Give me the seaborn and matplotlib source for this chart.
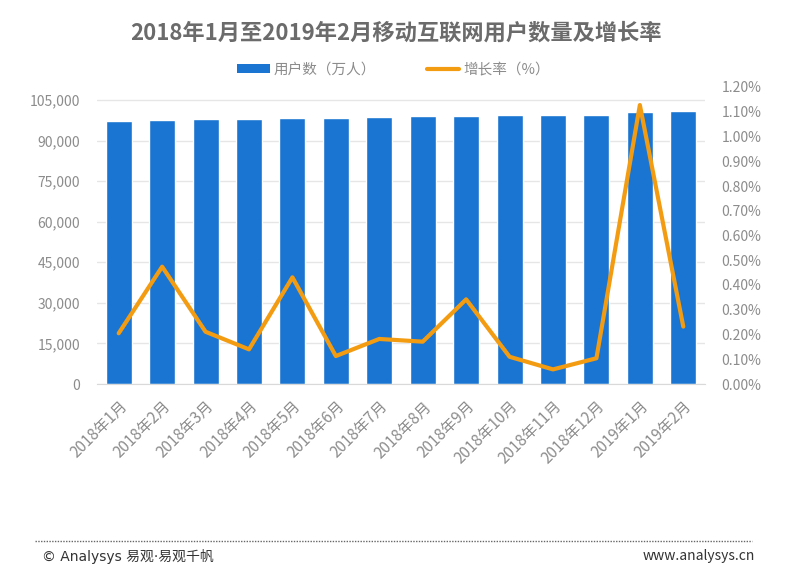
import numpy as np
import pandas as pd
import matplotlib
matplotlib.use("Agg")
import matplotlib.pyplot as plt
import seaborn as sns
from matplotlib.lines import Line2D
from matplotlib.patches import Patch
from matplotlib.ticker import FuncFormatter, FixedLocator

# data
months = ["2018年1月", "2018年2月", "2018年3月", "2018年4月", "2018年5月", "2018年6月",
          "2018年7月", "2018年8月", "2018年9月", "2018年10月", "2018年11月", "2018年12月",
          "2019年1月", "2019年2月"]
users = [97300, 97550, 97800, 98150, 98400, 98500, 98800,
         98950, 99250, 99300, 99300, 99550, 100400, 100750]
growth = [0.205, 0.474, 0.211, 0.140, 0.431, 0.113, 0.182,
          0.171, 0.342, 0.110, 0.059, 0.104, 1.127, 0.232]

df = pd.DataFrame({"month": months, "users": users, "growth": growth})

sns.set_style("white")
plt.rcParams['font.family'] = ['Noto Sans CJK SC', 'DejaVu Sans']

blue = "#1A75D2"
orange = "#F39C12"
grey = "#8C8C8C"

fig = plt.figure(figsize=(8.04, 5.88), dpi=100)
ax = fig.add_axes([97 / 804, 1 - 384 / 588, (705 - 97) / 804, (384 - 87) / 588])

sns.barplot(data=df, x="month", y="users", color=blue, width=0.6,
            saturation=1, ax=ax, zorder=2)
ax.set_xlim(-0.5, len(months) - 0.5)
ax.set_ylim(0, 105000 * 297 / 284)
ax.yaxis.set_major_locator(FixedLocator(np.arange(0, 105001, 15000)))
ax.yaxis.set_major_formatter(FuncFormatter(lambda v, p: f"{int(v):,}"))
ax.grid(axis="y", color="#E6E6E6", linewidth=1, zorder=0)
ax.set_axisbelow(True)
ax.set_xlabel("")
ax.set_ylabel("")

ax.tick_params(axis="y", length=0, pad=12, labelsize=10, labelcolor=grey)
ax.tick_params(axis="x", which="major", length=0, pad=10, labelsize=11, labelcolor=grey)
ax.set_xticks(np.arange(-0.5, len(months)), minor=True)
ax.tick_params(axis="x", which="minor", length=4, color="#D9D9D9", width=1)
for lab in ax.get_xticklabels():
    lab.set_rotation(45)
    lab.set_ha("right")
    lab.set_va("top")
    lab.set_rotation_mode("anchor")

for s in ["top", "left", "right"]:
    ax.spines[s].set_visible(False)
ax.spines["bottom"].set_color("#D9D9D9")

ax2 = ax.twinx()
sns.lineplot(x=np.arange(len(months)), y=df["growth"], color=orange,
             linewidth=3, ax=ax2, zorder=3)
ax2.set_ylim(0, 1.2)
ax2.yaxis.set_major_locator(FixedLocator(np.arange(0, 1.2001, 0.1)))
ax2.yaxis.set_major_formatter(FuncFormatter(lambda v, p: f"{v:.2f}%"))
ax2.tick_params(axis="y", length=0, pad=12, labelsize=10, labelcolor=grey)
ax2.set_ylabel("")
for s in ["top", "left", "right", "bottom"]:
    ax2.spines[s].set_visible(False)

fig.text(0.493, 0.944, "2018年1月至2019年2月移动互联网用户数量及增长率",
         ha="center", va="center", fontsize=16, color="#6B6B6B", fontweight="bold")

handles = [Patch(facecolor=blue, edgecolor="none"),
           Line2D([0], [0], color=orange, linewidth=3)]
fig.legend(handles, ["用户数（万人）", "增长率（%）"], loc="center",
           bbox_to_anchor=(0.49, 1 - 70 / 588), ncol=2, frameon=False,
           fontsize=10.5, labelcolor=grey, handlelength=2.2, handleheight=0.6,
           columnspacing=3.5, handletextpad=0.3)

fig.add_artist(Line2D([35 / 804, 752 / 804], [1 - 541 / 588, 1 - 541 / 588],
                      color="#666666", linewidth=1, linestyle=(0, (1, 1))))
fig.text(42 / 804, 1 - 556 / 588, "© Analysys 易观·易观千帆", ha="left", va="center",
         fontsize=10, color="#333333", family=["DejaVu Sans", "Noto Sans CJK SC"])
fig.text(755 / 804, 1 - 556 / 588, "www.analysys.cn", ha="right", va="center",
         fontsize=10, color="#333333")

fig.savefig("out.png", dpi=100)
